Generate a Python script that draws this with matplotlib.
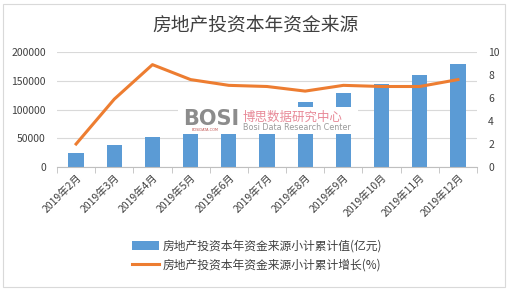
import matplotlib
matplotlib.use('Agg')
import matplotlib.pyplot as plt
from matplotlib.patches import Rectangle
import numpy as np

plt.rcParams['font.family'] = ['Noto Sans CJK SC', 'DejaVu Sans']

months = ['2019年2月', '2019年3月', '2019年4月', '2019年5月', '2019年6月', '2019年7月',
          '2019年8月', '2019年9月', '2019年10月', '2019年11月', '2019年12月']
funds = [23958, 38947, 52551, 67973, 85248, 98390, 112336, 129272, 145178, 160253, 178609]
growth = [2.0, 5.9, 8.9, 7.6, 7.1, 7.0, 6.6, 7.1, 7.0, 7.0, 7.6]

W, H = 510, 291
fig = plt.figure(figsize=(W / 100, H / 100), dpi=100)
fig.patch.set_facecolor('white')
fig.patches.append(Rectangle((3 / W, 4 / H), 502 / W, 283 / H, transform=fig.transFigure,
                             fill=False, edgecolor='#d9d9d9', linewidth=0.8))

ax = fig.add_axes([57 / W, 1 - 167 / H, 420 / W, 115 / H])
x = np.arange(len(months))
ax.bar(x, funds, width=0.4, color='#5b9bd5', zorder=2, label='房地产投资本年资金来源小计累计值(亿元)')
ax.set_xlim(-0.5, len(months) - 0.5)
ax.set_ylim(0, 200000)
ax.set_yticks([0, 50000, 100000, 150000, 200000])
ax.grid(axis='y', color='#d9d9d9', linewidth=0.8, zorder=0)
for s in ['top', 'left', 'right']:
    ax.spines[s].set_visible(False)
ax.spines['bottom'].set_color('#bfbfbf')
ax.set_xticks(x)
ax.set_xticklabels(months, rotation=45, ha='right', rotation_mode='anchor', fontsize=7.5,
                   color='#404040')
ax.tick_params(axis='x', length=0, pad=4)
ax.set_xticks(np.arange(-0.5, len(months)), minor=True)
ax.tick_params(axis='x', which='minor', length=4, color='#bfbfbf')
ax.tick_params(axis='y', length=0, labelsize=7.5, pad=8, labelcolor='#404040')

ax2 = ax.twinx()
ax2.plot(x, growth, color='#ed7d31', linewidth=2.2, label='房地产投资本年资金来源小计累计增长(%)')
ax2.set_ylim(0, 10)
ax2.set_yticks([0, 2, 4, 6, 8, 10])
for s in ['top', 'left', 'right', 'bottom']:
    ax2.spines[s].set_visible(False)
ax2.tick_params(axis='y', length=0, labelsize=7.5, pad=8, labelcolor='#404040')

# watermark
ax.add_patch(Rectangle((178 / W, 1 - 134 / H), 180 / W, 27 / H, transform=fig.transFigure,
                       facecolor='white', edgecolor='none', zorder=5, clip_on=False))
fig.text(211 / W, 1 - 119 / H, 'BOSI', fontsize=15, fontweight='bold', color='#8c8c8c',
         ha='center', va='center', family='DejaVu Sans', zorder=6)
fig.text(205 / W, 1 - 130 / H, 'BOSIDATA.COM', fontsize=2.5, color='#c0504d',
         ha='center', va='center', family='DejaVu Sans')
fig.text(243 / W, 1 - 117 / H, '博思数据研究中心', fontsize=9, color='#e88a98',
         ha='left', va='center')
fig.text(243 / W, 1 - 128 / H, 'Bosi Data Research Center', fontsize=5.8, color='#9a9a9a',
         ha='left', va='center', family='DejaVu Sans')

fig.text(0.5, 1 - 25 / H, '房地产投资本年资金来源', fontsize=13.5, ha='center', va='center', color='#404040')

h1, l1 = ax.get_legend_handles_labels()
h2, l2 = ax2.get_legend_handles_labels()
fig.legend(h1 + h2, l1 + l2, loc='upper left', bbox_to_anchor=(121 / W, 1 - 229 / H),
           frameon=False, fontsize=8.5, handlelength=2.3, handletextpad=0.3, labelspacing=0.5,
           labelcolor='#404040')

fig.savefig('out.png', dpi=100)
